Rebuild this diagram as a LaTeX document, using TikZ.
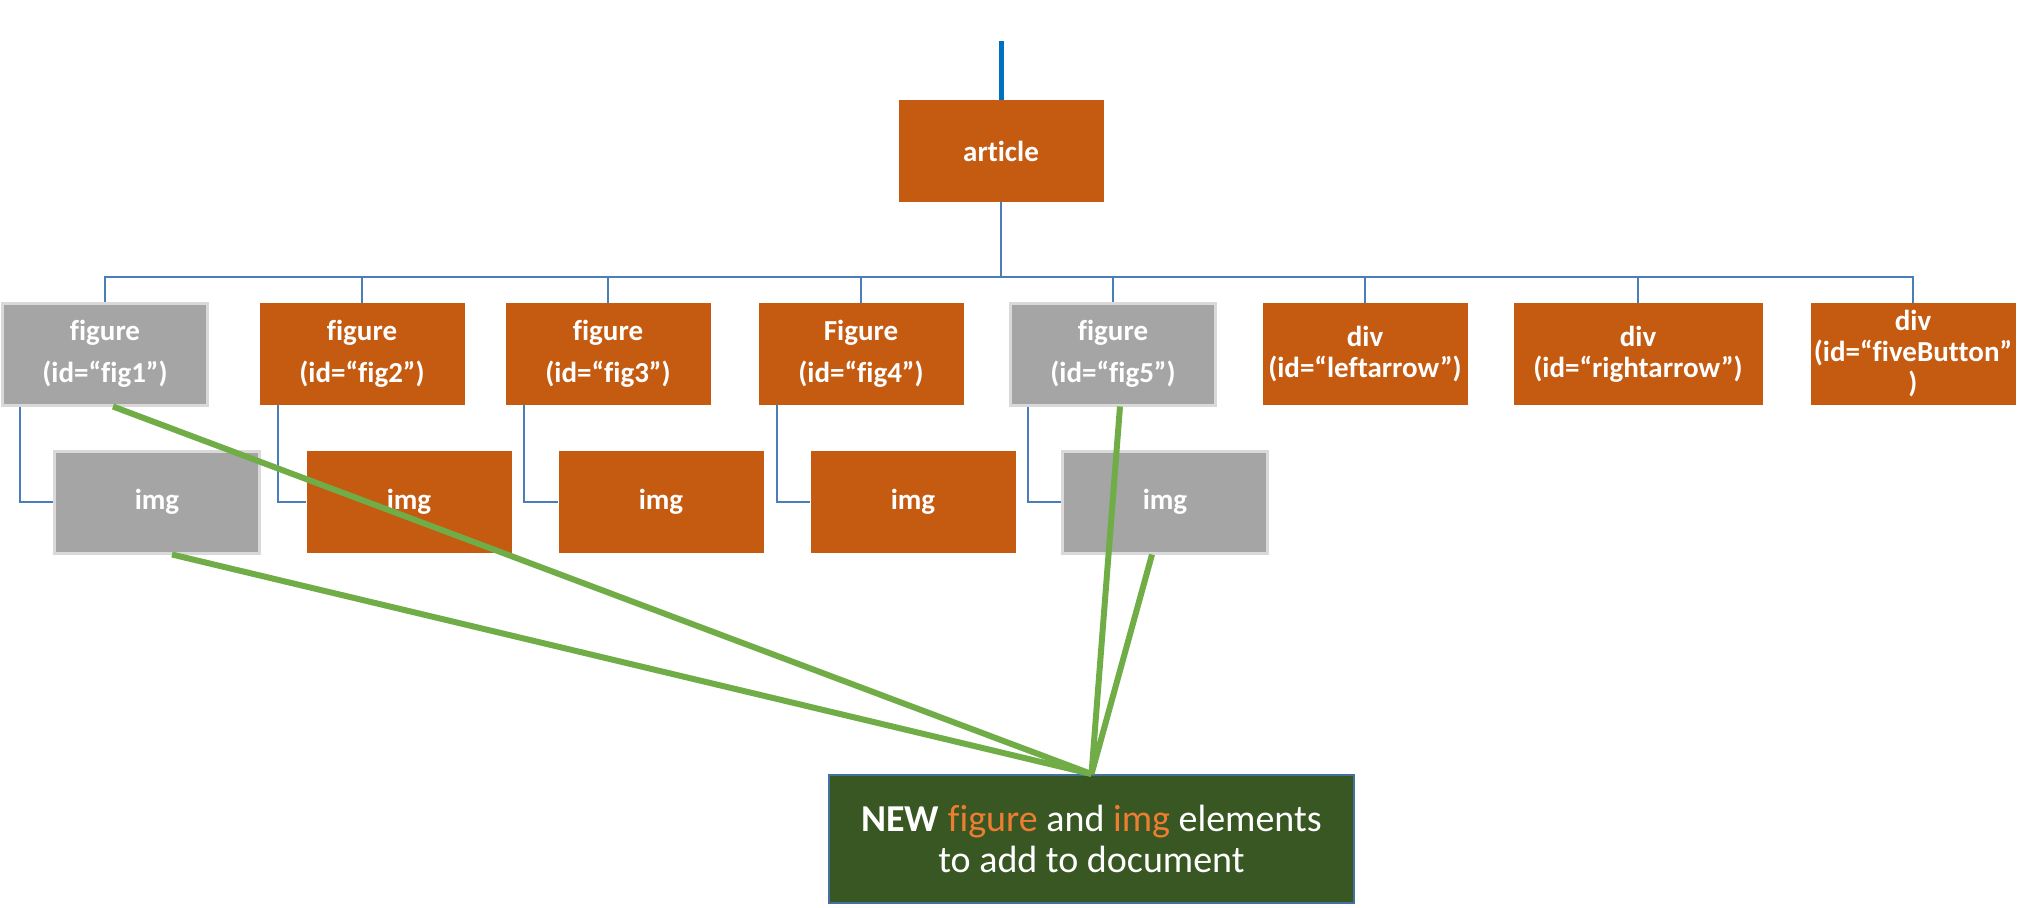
\documentclass[tikz,border=0pt]{standalone}
\usepackage{fontspec}
\setmainfont{Carlito}[Ligatures=NoCommon]
\usepackage{xcolor}
\usepackage{tikz}
\usetikzlibrary{positioning}
\definecolor{rust}{HTML}{C55A11}
\definecolor{ash}{HTML}{A5A5A5}
\definecolor{ashline}{HTML}{D9D9D9}
\definecolor{wire}{HTML}{4A7EBB}
\definecolor{topwire}{HTML}{0070C0}
\definecolor{leaf}{HTML}{70AD47}
\definecolor{forest}{HTML}{385723}
\definecolor{forestline}{HTML}{41719C}
\definecolor{tangerine}{HTML}{ED7D31}
\tikzstyle{module} = [rectangle, minimum width=102.5pt, minimum height=51pt, inner sep=0pt, align=center, text=white, fill=rust, font=\fontsize{14.5}{21}\selectfont\bfseries]
\tikzstyle{removed} = [module, fill=ash, draw=ashline, line width=1.5pt]
\tikzstyle{divmod} = [module, font=\fontsize{14.5}{15.5}\selectfont\bfseries]
\tikzstyle{newbox} = [rectangle, minimum width=262.5pt, minimum height=64pt, inner sep=0pt, align=center, text=white, fill=forest, draw=forestline, line width=1pt, font=\fontsize{19}{20.5}\selectfont]
\tikzstyle{tree} = [draw=wire, line width=1pt]
\tikzstyle{link} = [draw=leaf, line width=3pt]

\begin{document}
\begin{tikzpicture}[x=0.5pt, y=-0.5pt]
        \useasboundingbox (0,0) rectangle (2031,907);
        \node (article) [module] at (1001,151) {article};
        \coordinate (root) at (1001,41);
        \coordinate (bus) at (1001,277);

        \node (fig1) [removed] at (105,354) {figure\\(id=“fig1”)};
        \node (fig2) [module] at (362,354) {figure\\(id=“fig2”)};
        \node (fig3) [module] at (608,354) {figure\\(id=“fig3”)};
        \node (fig4) [module] at (861,354) {Figure\\(id=“fig4”)};
        \node (fig5) [removed] at (1113,354) {figure\\(id=“fig5”)};
        \node (left) [divmod] at (1365,354) {div\\(id=“leftarrow”)};
        \node (right) [divmod, minimum width=124.5pt] at (1638,354) {div\\(id=“rightarrow”)};
        \node (five) [divmod] at (1913,354) {div\\(id=“fiveButton”\\)};

        \node (img1) [removed] at (157,502) {img};
        \node (img2) [module] at (409,502) {img};
        \node (img3) [module] at (661,502) {img};
        \node (img4) [module] at (913,502) {img};
        \node (img5) [removed] at (1165,502) {img};

        \node (new) [newbox] at (1091.5,839) {\textbf{NEW} \textcolor{tangerine}{figure} and \textcolor{tangerine}{img} elements\\to add to document};

        \draw [topwire, line width=2.5pt] (root) -- (article.north);
        \foreach \n in {fig1,fig2,fig3,fig4,fig5,left,right,five}
            \draw [tree] (article.south) -- (bus) -| (\n.north);
        \foreach \f/\i in {fig1/img1,fig2/img2,fig3/img3,fig4/img4,fig5/img5}
            \draw [tree] ([xshift=9.5pt]\f.south west) |- (\i.west);

        \draw [link] ([xshift=4pt]fig1.south) -- (new.north);
        \draw [link] ([xshift=7.5pt]img1.south) -- (new.north);
        \draw [link] ([xshift=3.5pt]fig5.south) -- (new.north);
        \draw [link] ([xshift=-6.5pt]img5.south) -- (new.north);
    \end{tikzpicture}
\end{document}
